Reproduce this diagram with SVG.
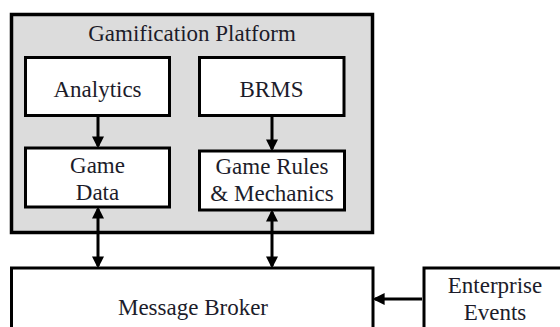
<svg xmlns="http://www.w3.org/2000/svg" width="560" height="327" viewBox="0 0 560 327">
<style>
.box{fill:#fff;stroke:#000;stroke-width:3}
.outer{fill:#dcdcdc;stroke:#000;stroke-width:3.5}
.t{font-size:23px;fill:#1c1c2a;text-anchor:middle}
.ln{stroke:#000;stroke-width:3;fill:none}
</style>
<defs>
<marker id="ah" markerWidth="4" markerHeight="4" refX="3.2" refY="2" orient="auto-start-reverse" markerUnits="strokeWidth">
<path d="M0,0 L4,2 L0,4 Z" fill="#000"/>
</marker>
</defs>
<rect width="560" height="327" fill="#fff"/>
<g id="platform">
<rect class="outer" x="11.5" y="14.5" width="361" height="218"/>
<text class="t" font-family="Liberation Serif, serif" x="192" y="40.5">Gamification Platform</text>
</g>
<g id="analytics">
<rect class="box" x="25.5" y="57.5" width="144" height="58"/>
<text class="t" font-family="Liberation Serif, serif" x="97.5" y="97">Analytics</text>
</g>
<g id="brms">
<rect class="box" x="199.5" y="57.5" width="144.5" height="58"/>
<text class="t" font-family="Liberation Serif, serif" x="271.5" y="97">BRMS</text>
</g>
<g id="game-data">
<rect class="box" x="25.5" y="148" width="144" height="59"/>
<text class="t" font-family="Liberation Serif, serif" x="97.5" y="173">Game</text>
<text class="t" font-family="Liberation Serif, serif" x="97.5" y="200">Data</text>
</g>
<g id="game-rules">
<rect class="box" x="199.5" y="151" width="145" height="59"/>
<text class="t" font-family="Liberation Serif, serif" x="272" y="174">Game Rules</text>
<text class="t" font-family="Liberation Serif, serif" x="272" y="201">&amp; Mechanics</text>
</g>
<g id="message-broker">
<rect class="box" x="11.5" y="268" width="361.5" height="80"/>
<text class="t" font-family="Liberation Serif, serif" x="193" y="315">Message Broker</text>
</g>
<g id="enterprise-events">
<rect class="box" x="424" y="268" width="150" height="80"/>
<text class="t" font-family="Liberation Serif, serif" x="495" y="293">Enterprise</text>
<text class="t" font-family="Liberation Serif, serif" x="495" y="320">Events</text>
</g>
<g id="connectors">
<line class="ln" x1="98" y1="117" x2="98" y2="146" marker-end="url(#ah)"/>
<line class="ln" x1="272" y1="117" x2="272" y2="149" marker-end="url(#ah)"/>
<line class="ln" x1="98" y1="209" x2="98" y2="266" marker-start="url(#ah)" marker-end="url(#ah)"/>
<line class="ln" x1="272" y1="212" x2="272" y2="266" marker-start="url(#ah)" marker-end="url(#ah)"/>
<line class="ln" x1="422" y1="299" x2="375" y2="299" marker-end="url(#ah)"/>
</g>
</svg>
